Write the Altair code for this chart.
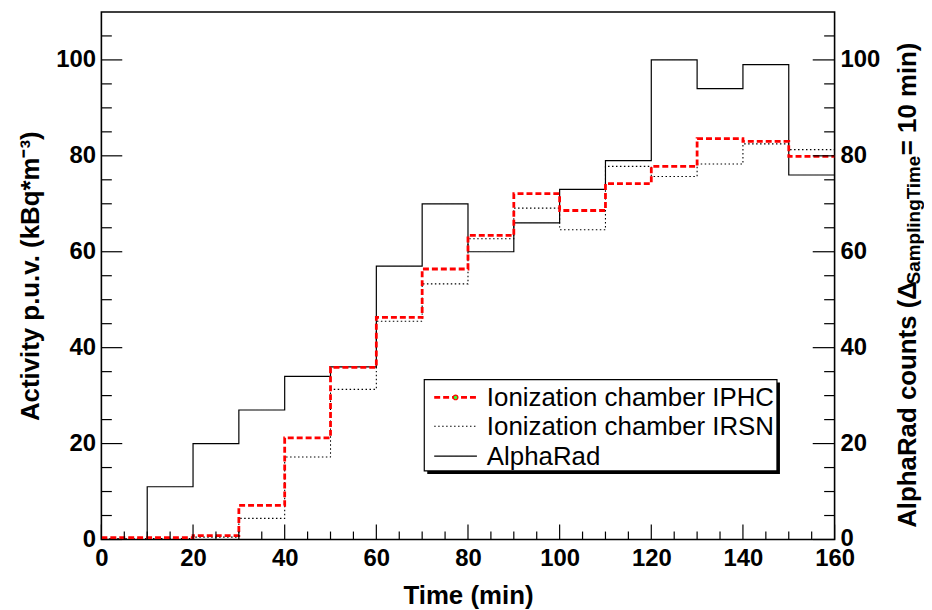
import altair as alt
import pandas as pd

# ---------------- data ----------------
bin_edges = [0, 10, 20, 30, 40, 50, 60, 70, 80, 90, 100, 110, 120, 130, 140, 150, 160]
alpharad = [0, 11, 20, 27, 34, 36, 57, 70, 60, 66, 73, 79, 100, 94, 99, 76]
iphc = [0.4, 0.4, 0.8, 7.1, 21.2, 35.9, 46.3, 56.4, 63.4, 72.1, 68.6, 74.2, 77.8, 83.6, 83.0, 79.9]
irsn = [0.2, 0.2, 0.5, 4.4, 17.2, 31.3, 45.5, 53.3, 62.7, 69.1, 64.6, 77.8, 75.7, 78.3, 82.5, 81.3]
series_names = ["Ionization chamber IPHC", "Ionization chamber IRSN", "AlphaRad"]

y_major = [0, 20, 40, 60, 80, 100]
y_minor = [v for v in range(5, 110, 5) if v % 20 != 0]
x_major = [0, 20, 40, 60, 80, 100, 120, 140, 160]
x_minor = [v for v in range(5, 160, 5) if v % 20 != 0]

# ---------------- layout ----------------
W, H = 738, 531
FONT = "Liberation Sans, Arial, Helvetica, sans-serif"
XD = [0, 160]
YD = [0, 110]


def hist_df(values):
    return pd.DataFrame({"t": bin_edges, "v": values + [values[-1]]})


xs = alt.Scale(domain=XD, nice=False, zero=False)
ys = alt.Scale(domain=YD, nice=False, zero=False)

x_axis = alt.Axis(values=x_major, title="Time (min)", labelFont=FONT, labelFontSize=24,
                  labelFontWeight="bold", labelColor="black", labelPadding=7,
                  labelFlush=False, labelOverlap=False, ticks=False, tickSize=0,
                  domain=False, grid=False, titleFont=FONT, titleFontSize=26,
                  titleFontWeight="bold", titleColor="black", titlePadding=12, format="d")
y_axis = alt.Axis(values=y_major, title="Activity p.u.v.  (kBq*m\u207b\u00b3)", labelFont=FONT,
                  labelFontSize=24, labelFontWeight="bold", labelColor="black",
                  labelPadding=6, labelOverlap=False, ticks=False, tickSize=0, domain=False,
                  grid=False, titleFont=FONT, titleFontSize=26, titleFontWeight="bold",
                  titleColor="black", titlePadding=12, format="d")

X = lambda f: alt.X(f, scale=xs, axis=x_axis)
Y = lambda f: alt.Y(f, scale=ys, axis=y_axis)


def hist_layer(values, color, width, dash):
    return alt.Chart(hist_df(values)).mark_line(
        interpolate="step-after", color=color, strokeWidth=width, strokeDash=dash, clip=True
    ).encode(x=X("t:Q"), y=Y("v:Q"))


solid = hist_layer(alpharad, "black", 1.2, [1, 0])
dotted = hist_layer(irsn, "black", 1.1, [1.5, 2.5])
dashed = hist_layer(iphc, "#ff0000", 2.8, [6, 3])

# ---------------- inward ticks ----------------
def yticks(vals, x0, x1):
    return alt.Chart(pd.DataFrame({"v": vals})).mark_rule(color="black", strokeWidth=1.2).encode(
        y=Y("v:Q"), x=alt.value(x0), x2=alt.value(x1))


def xticks(vals, y0, y1):
    return alt.Chart(pd.DataFrame({"v": vals})).mark_rule(color="black", strokeWidth=1.2).encode(
        x=X("v:Q"), y=alt.value(y0), y2=alt.value(y1))


ticks = [
    yticks(y_major, 0, 21), yticks(y_minor, 0, 10.5),
    yticks(y_major, W - 22, W), yticks(y_minor, W - 10.5, W),
    xticks(x_major, H - 15, H), xticks(x_minor, H - 8, H),
]

# right axis labels
right_labels = alt.Chart(pd.DataFrame({"v": y_major})).mark_text(
    align="left", baseline="middle", font=FONT, fontSize=24, fontWeight="bold", color="black"
).encode(y=Y("v:Q"), x=alt.value(W + 6), text=alt.Text("v:Q", format="d"))

# right axis title (with subscript), rotated
T_SIZE, S_SIZE = 26, 19
p1, p2, p3 = "AlphaRad counts (\u0394", "SamplingTime", "= 10 min)"
len1, len2, len3 = 9.43 * T_SIZE, 6.835 * S_SIZE, 4.363 * T_SIZE
total = len1 + len2 + len3
center_y = 271
bottom_y = center_y + total / 2 + 4
base_x = 820


def rtext(txt, y, size, align, xoff=0):
    return alt.Chart(pd.DataFrame({"a": [0]})).mark_text(
        text=txt, angle=270, align=align, baseline="alphabetic", font=FONT,
        fontSize=size, fontWeight="bold", color="black"
    ).encode(x=alt.value(base_x + xoff), y=alt.value(y))


rtitle = [
    rtext(p1, bottom_y, T_SIZE, "left"),
    rtext(p2, bottom_y - len1, S_SIZE, "left", xoff=4),
    rtext(p3, bottom_y - len1 - len2, T_SIZE, "left"),
]

# ---------------- legend ----------------
LX0, LX1, LY0, LY1 = 325, 680, 370, 462
one = pd.DataFrame({"a": [0]})
shadow = alt.Chart(one).mark_rect(color="black").encode(
    x=alt.value(LX0 + 3), x2=alt.value(LX1 + 3), y=alt.value(LY0 + 3), y2=alt.value(LY1 + 3))
box = alt.Chart(one).mark_rect(fill="white", stroke="black", strokeWidth=1.2).encode(
    x=alt.value(LX0), x2=alt.value(LX1), y=alt.value(LY0), y2=alt.value(LY1))
rows = [388, 417, 447]
styles = [("#ff0000", 2.8, [6, 3]), ("black", 1.1, [1.5, 2.5]), ("black", 1.2, [1, 0])]
legend = [shadow, box]
for name, ry, (c, w, d) in zip(series_names, rows, styles):
    legend.append(alt.Chart(one).mark_rule(color=c, strokeWidth=w, strokeDash=d).encode(
        x=alt.value(335), x2=alt.value(378), y=alt.value(ry)))
    legend.append(alt.Chart(one).mark_text(
        text=name, align="left", baseline="middle", font=FONT, fontSize=26, color="black"
    ).encode(x=alt.value(388), y=alt.value(ry + 1)))
legend.append(alt.Chart(one).mark_point(filled=True, fill="#33ff33", stroke="#ff0000",
                                         strokeWidth=1.2, size=22, opacity=1).encode(
    x=alt.value(356.5), y=alt.value(rows[0])))

chart = alt.layer(
    solid, dotted, dashed, *ticks, right_labels, *rtitle, *legend
).properties(
    width=W, height=H,
    background="white",
    padding={"left": 94, "top": 2, "right": 90, "bottom": 70},
    autosize=alt.AutoSizeParams(type="none"),
).configure_view(stroke="black", strokeWidth=1.6)

chart.save("out.html", embed_options={"renderer": "svg", "actions": False})
